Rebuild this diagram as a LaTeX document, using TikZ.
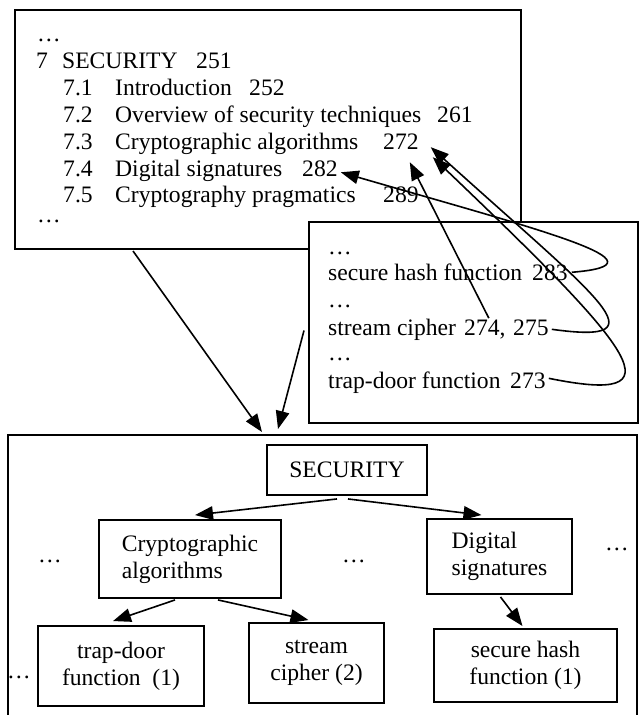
\documentclass[tikz,border=0pt]{standalone}
\usepackage{fontspec}
\setmainfont{Liberation Serif}
\usetikzlibrary{arrows.meta,calc}
\newcommand{\mytf}{\fontsize{23.6pt}{27pt}\selectfont}
\begin{document}
\begin{tikzpicture}[x=1pt,y=-1pt,
  txt/.style={inner sep=0pt, anchor=base west, font=\mytf},
  dotsn/.style={inner sep=0pt, anchor=base, font=\mytf},
  frame/.style={draw, line width=2pt, inner sep=0pt},
  tbox/.style={draw, line width=1.9pt, inner sep=0pt, align=center, font=\mytf},
  arr/.style={line width=1.6pt, -{Triangle[length=18pt,width=13.5pt]}}]
\useasboundingbox (0,0) rectangle (639,715);

% frames
\node[frame, minimum width=506pt, minimum height=239pt, anchor=north west] (toc) at (14,9) {};
\node[frame, fill=white, minimum width=329pt, minimum height=201pt, anchor=north west] (idx) at (308,221) {};
\node[frame, minimum width=629pt, minimum height=300pt, anchor=north west] (tree) at (7,434) {};

% table of contents
\node[txt] (d1) at (37,41) {…};
\node[txt] (c7) at (36,68) {7};
\node[txt] (csec) at (62,68) {SECURITY};
\node[txt] (p251) at (196,68) {251};
\node[txt] (s71) at (63,95) {7.1};
\node[txt] (t71) at (115,95) {Introduction};
\node[txt] (p252) at (249,95) {252};
\node[txt] (s72) at (63,122) {7.2};
\node[txt] (t72) at (115,122) {Overview of security techniques};
\node[txt] (p261) at (437,122) {261};
\node[txt] (s73) at (63,149) {7.3};
\node[txt] (t73) at (115,149) {Cryptographic algorithms};
\node[txt] (p272) at (383,149) {272};
\node[txt] (s74) at (63,176) {7.4};
\node[txt] (t74) at (115,176) {Digital signatures};
\node[txt] (p282) at (302,176) {282};
\node[txt] (s75) at (63,202) {7.5};
\node[txt] (t75) at (115,202) {Cryptography pragmatics};
\node[txt] (p289) at (383,202) {289};
\node[txt] (d2) at (37,222) {…};

% index
\node[txt] (i0) at (328,254) {…};
\node[txt] (ihash) at (328,280) {secure hash function};
\node[txt] (h283) at (532,280) {283};
\node[txt] (i1) at (328,307) {…};
\node[txt] (istream) at (328,335) {stream cipher};
\node[txt] (h274) at (464,335) {274,};
\node[txt] (h275) at (513,335) {275};
\node[txt] (i2) at (328,360) {…};
\node[txt] (itrap) at (328,388) {trap-door function};
\node[txt] (h273) at (510,388) {273};

% tree
\node[tbox, minimum width=160pt, minimum height=50pt] (sec) at (347,470) {SECURITY};
\node[tbox, align=left, minimum width=182pt, minimum height=78pt] (crypto) at (190,559) {Cryptographic\\algorithms};
\node[tbox, align=left, minimum width=145pt, minimum height=75pt] (dig) at (499.5,556.5) {Digital\\signatures};
\node[tbox, minimum width=166pt, minimum height=80pt] (trap) at (121,666) {trap-door\\function~~(1)};
\node[tbox, minimum width=135pt, minimum height=80pt] (stream) at (316.5,663) {stream\\cipher (2)};
\node[tbox, minimum width=183pt, minimum height=73pt] (hash) at (525.5,665.5) {secure hash\\function (1)};

\node[dotsn] (e1) at (50,562) {…};
\node[dotsn] (e2) at (354,562) {…};
\node[dotsn] (e3) at (617,550) {…};
\node[dotsn] (e4) at (19,678) {…};

% connectors between frames
\draw[arr] ($(toc.south west)+(119,1)$) -- ($(tree.north west)+(255,-2)$);
\draw[arr] ($(idx.west)+(-4,8)$) -- ($(tree.north west)+(271,-5)$);

% tree connectors
\draw[arr] ($(sec.south)+(-10,3)$) -- ($(crypto.north)+(5,-4)$);
\draw[arr] ($(sec.south)+(1,3)$) -- ($(dig.north)+(-18,-3)$);
\draw[arr] ($(crypto.south)+(-15,1)$) -- ($(trap.north)+(-8,-4)$);
\draw[arr] ($(crypto.south)+(28,1)$) -- ($(stream.north)+(-8,-2)$);
\draw[arr] ($(dig.south)+(1,2)$) -- ($(hash.north)+(-3,-2)$);

% index to contents
\draw[arr] ($(h283.east)+(4,0)$) .. controls (675,264) and (540,230) .. ($(p282.east)+(3,4)$);
\draw[arr] ($(h275.east)+(3,2)$) .. controls (665,345) and (600,300) .. ($(p272.east)+(12,6)$);
\draw[arr] ($(h273.east)+(3,-2)$) .. controls (680,405) and (640,355) .. ($(p272.east)+(14,16)$);
\draw[arr] ($(h274.north)+(4,-1)$) -- ($(p272.south east)+(-9,13)$);
\end{tikzpicture}
\end{document}
